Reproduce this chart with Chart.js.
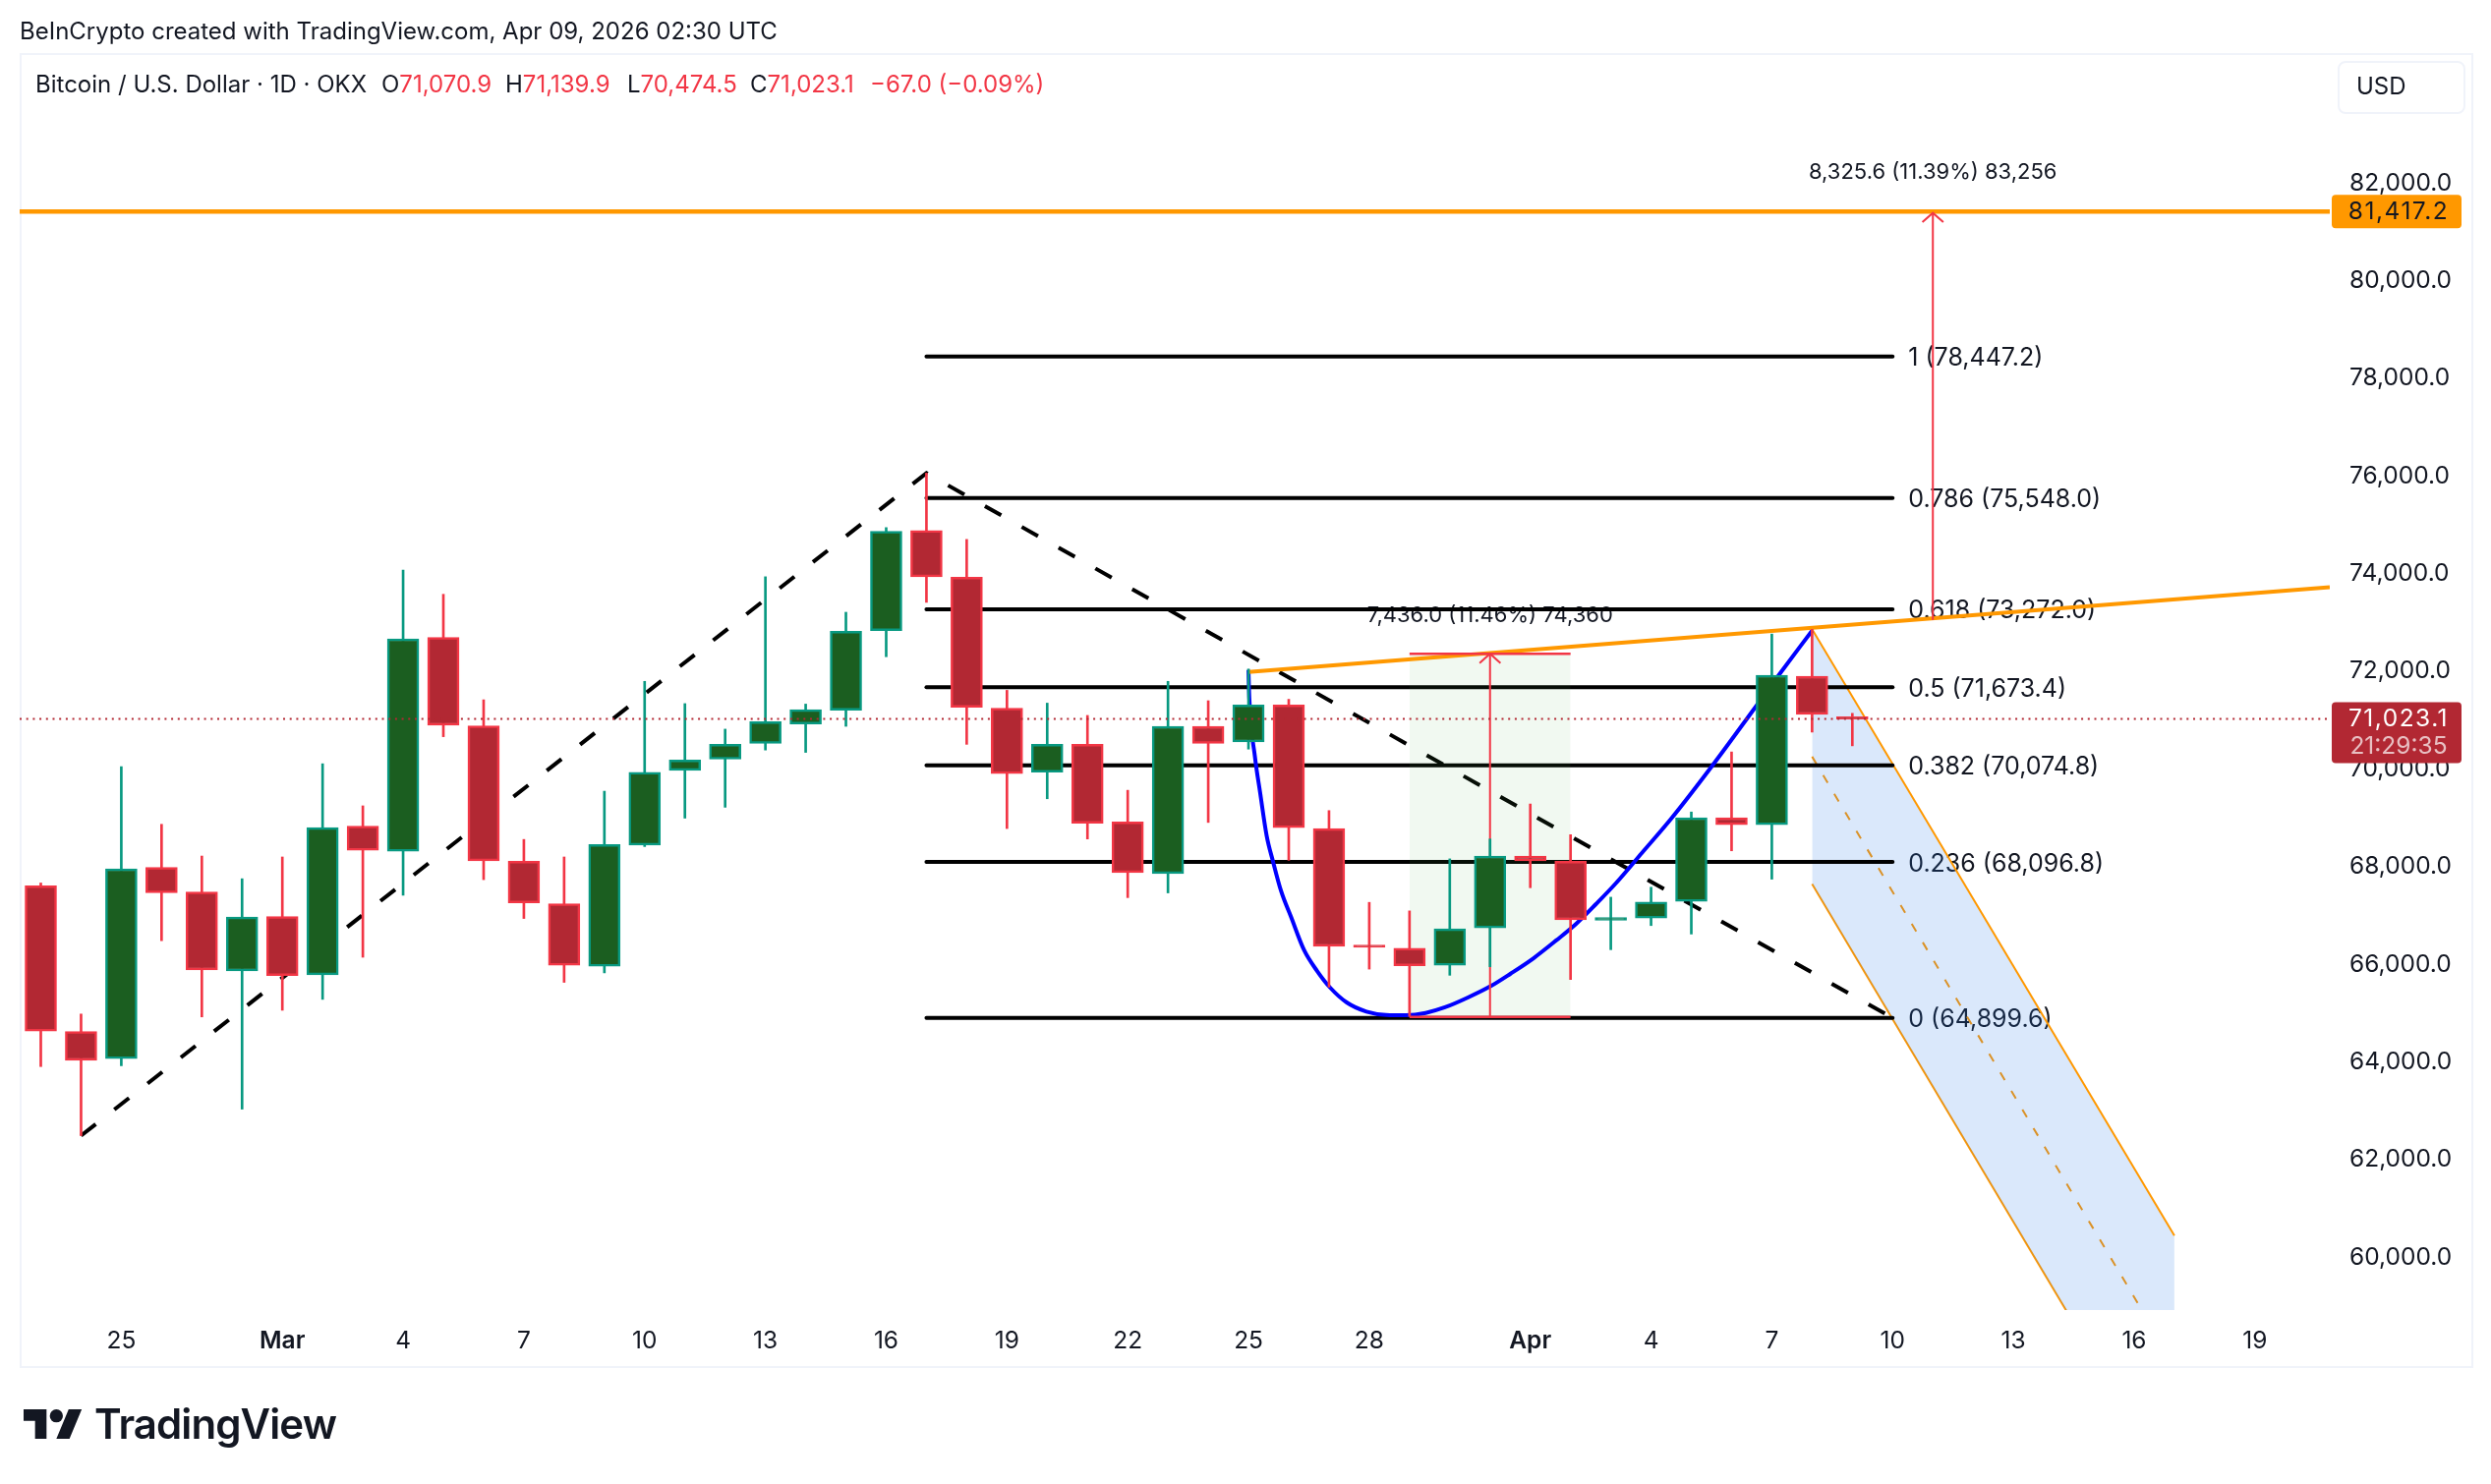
<!DOCTYPE html>
<html>
<head>
<meta charset="utf-8">
<title>BTC/USD</title>
<script src="https://cdn.jsdelivr.net/npm/chart.js@4/dist/chart.umd.min.js"></script>
<style>
    html, body { margin: 0; padding: 0; background: #fff; }
    body { width: 2534px; height: 1510px; position: relative; overflow: hidden; font-family: Inter, sans-serif; color: #131722; }
    canvas { position: absolute; left: 0; top: 0; }
    .frame { position: absolute; left: 20px; top: 54px; width: 2492px; height: 1334px; border: 2px solid #f0f3fa; }
    .txt { position: absolute; white-space: nowrap; font-size: 24px; line-height: 30px; }
    .red { color: #f23645; }
    .usd { position: absolute; left: 2378px; top: 62px; width: 126px; height: 50px; border: 2px solid #f0f3fa; border-radius: 8px; }
    .logo { position: absolute; left: 24px; top: 1434px; width: 60px; height: 30px; }
    .logoText { position: absolute; left: 96px; top: 1422px; font-size: 42px; line-height: 54px; font-weight: 600; letter-spacing: -0.9px; white-space: nowrap; }
</style>
</head>
<body>
<div class="frame"></div>
<div class="usd"></div>
<canvas id="btcChart" width="2534" height="1510"></canvas>

<div class="txt" style="left:20px;top:17px">BeInCrypto created with TradingView.com, Apr 09, 2026 02:30 UTC</div>
<div class="txt" style="left:36px;top:71px">Bitcoin / U.S. Dollar · 1D · OKX</div>
<div class="txt" style="left:388px;top:71px">O<span class="red">71,070.9</span></div>
<div class="txt" style="left:514px;top:71px">H<span class="red">71,139.9</span></div>
<div class="txt" style="left:638px;top:71px">L<span class="red">70,474.5</span></div>
<div class="txt" style="left:763px;top:71px">C<span class="red">71,023.1</span></div>
<div class="txt red" style="left:885px;top:71px">−67.0 (−0.09%)</div>
<div class="txt" style="left:2397px;top:73px">USD</div>

<svg class="logo" viewBox="0 0 36 18" preserveAspectRatio="none"><path d="M14 18H7V7H0V0h14v18zM28 18h-8l7.5-18h8L28 18z" fill="#131722"/><circle cx="20" cy="4" r="4" fill="#131722"/></svg>
<div class="logoText">TradingView</div>

<script>
// Kerzen ab 23. Feb, x ist der Index im Array
const dates = ['Feb 23','Feb 24','Feb 25','Feb 26','Feb 27','Feb 28','Mar 1','Mar 2','Mar 3','Mar 4','Mar 5','Mar 6','Mar 7','Mar 8','Mar 9','Mar 10','Mar 11','Mar 12','Mar 13','Mar 14','Mar 15','Mar 16','Mar 17','Mar 18','Mar 19','Mar 20','Mar 21','Mar 22','Mar 23','Mar 24','Mar 25','Mar 26','Mar 27','Mar 28','Mar 29','Mar 30','Mar 31','Apr 1','Apr 2','Apr 3','Apr 4','Apr 5','Apr 6','Apr 7','Apr 8','Apr 9'];
const opens = [67607,64622,64070,67985,67481,65863,66977,65785,68828,68314,72696,70884,68111,67239,65960,68440,69972,70204,70524,70923,71204,72832,74886,73927,71243,69933,70505,68915,67859,70874,70553,71310,68780,66396,66328,65979,66744,68217,68111,66900,66948,67287,69002,68857,71902,71070.9];
const closes = [64632,64031,67956,67462,65882,66967,65766,68799,68334,72667,70894,68121,67258,65979,68450,69933,70185,70505,70971,71213,72822,74867,73937,71262,69904,70505,68886,67878,70874,70524,71310,68799,66366,66347,65969,66725,68217,68121,66909,66958,67277,69002,68857,71921,71116,71023.1];
const highs = [67665,64981,70049,68867,68217,67752,68198,70107,69245,74072,73578,71417,68557,68198,69545,71795,71339,70816,73937,71329,73210,74944,76059,74702,71611,71349,71097,69564,71795,71398,72047,71427,69148,67268,67093,68159,68566,69283,68654,67374,67578,69119,70349,72764,72861,71139.9];
const lows = [63905,62490,63924,66483,64922,63033,65058,65281,66144,67413,70661,67733,66938,65630,65824,68411,68993,69216,70388,70340,70874,72299,73413,70505,68780,69390,68566,67365,67462,68905,70407,68130,65533,65901,64932,65775,65950,67568,65688,66299,66793,66619,68324,67743,70755,70474.5];

const yTicks = [60000,62000,64000,66000,68000,70000,72000,74000,76000,78000,80000,82000];
const xTickPos = [2,6,9,12,15,18,21,24,27,30,33,37,40,43,46,49,52,55];
const xTickLabels = ['25','Mar','4','7','10','13','16','19','22','25','28','Apr','4','7','10','13','16','19'];

const fibLevels = [78447.2,75548.0,73272.0,71673.4,70074.8,68096.8,64899.6];
const fibLabels = ['1 (78,447.2)','0.786 (75,548.0)','0.618 (73,272.0)','0.5 (71,673.4)','0.382 (70,074.8)','0.236 (68,096.8)','0 (64,899.6)'];
const fibStart = 22;
const fibEnd = 46;

const zigzagX = [1,22,46];
const zigzagY = [62490,76059,64900];

const curveX = [30,30.02,30.16,30.29,30.45,30.61,30.81,31.06,31.38,31.71,32.03,32.44,32.93,33.42,33.91,34.4,34.88,35.45,36.02,36.51,37.08,37.65,38.14,38.63,39.12,39.77,40.5,41.56,42.53,43.19,44];
const curveY = [72028,71458,70251,69512,68640,68103,67499,66963,66291,65856,65520,65218,65031,64963,64957,65003,65118,65319,65554,65808,66124,66493,66829,67231,67654,68278,68982,70110,71197,71942,72833];

const resistance = 81417.2;
const lastPrice = 71023.1;
const trendX = [30,56.86];
const trendY = [71989,73724];

const channelX = [44,53];
const channelTop = [72861,60445];
const channelMid = [70253,57800];
const channelBottom = [67646,55190];

const boxX = [34,38];
const boxTop = 72360;
const boxBottom = 64920;
const boxArrowX = 36;
const targetArrowX = 47;
const targetArrowY = [73055,81389];
const headDx = 0.26;
const headDy = 190;

const measureLabels = [
    { text: '8,325.6 (11.39%) 83,256', x: 47, y: 82213 },
    { text: '7,436.0 (11.46%) 74,360', x: 36, y: 73149 }
];

const X_MIN = -0.525, X_MAX = 56.86, Y_MIN = 58918, Y_MAX = 84663;

const GREEN_FILL = '#1b5e20', GREEN_LINE = '#089981';
const RED_FILL = '#b22833', RED_LINE = '#f23645';
const ORANGE = '#ff9800';

function xyLine(xs, ys, extra) {
    return Object.assign({
        type: 'line',
        data: xs.map((x, i) => ({ x: x, y: ys[i] })),
        borderWidth: 2,
        pointRadius: 0,
        fill: false,
        order: 5
    }, extra);
}

const isUp = i => closes[i] >= opens[i];

const datasets = [];

// letzte Kurs-Linie liegt ueber den Kerzen
datasets.push(xyLine([X_MIN, X_MAX], [lastPrice, lastPrice], { borderColor: RED_FILL, borderWidth: 2, borderDash: [2, 4.7], order: 0 }));

// Kerzen: Docht und Koerper als schwebende Balken
datasets.push({
    type: 'bar', label: 'bodies', order: 1, grouped: false, barThickness: 32, borderWidth: 2.5, borderSkipped: false,
    data: dates.map((d, i) => ({ x: i, y: [opens[i], closes[i]] })),
    backgroundColor: ctx => isUp(ctx.dataIndex) ? GREEN_FILL : RED_FILL,
    borderColor: ctx => isUp(ctx.dataIndex) ? GREEN_LINE : RED_LINE
});
datasets.push({
    type: 'bar', label: 'wicks', order: 2, grouped: false, barThickness: 2, borderWidth: 0,
    data: dates.map((d, i) => ({ x: i, y: [lows[i], highs[i]] })),
    backgroundColor: ctx => isUp(ctx.dataIndex) ? GREEN_LINE : RED_LINE
});

// Pfeile und Box
datasets.push(xyLine(boxX, [boxTop, boxTop], { borderColor: RED_LINE, borderWidth: 2.5, order: 3 }));
datasets.push(xyLine(boxX, [boxBottom, boxBottom], { borderColor: RED_LINE, borderWidth: 2.5, order: 3 }));
datasets.push(xyLine([boxArrowX, boxArrowX], [boxBottom, boxTop], { borderColor: RED_LINE, order: 3 }));
datasets.push(xyLine([boxArrowX - headDx, boxArrowX, boxArrowX + headDx], [boxTop - headDy, boxTop, boxTop - headDy], { borderColor: RED_LINE, order: 3 }));
datasets.push(xyLine([targetArrowX, targetArrowX], targetArrowY, { borderColor: RED_LINE, order: 3 }));
datasets.push(xyLine([targetArrowX - headDx, targetArrowX, targetArrowX + headDx], [targetArrowY[1] - headDy, targetArrowY[1], targetArrowY[1] - headDy], { borderColor: RED_LINE, order: 3 }));

// Trendlinien
datasets.push(xyLine([X_MIN, X_MAX], [resistance, resistance], { borderColor: ORANGE, borderWidth: 4.5, order: 4 }));
datasets.push(xyLine(trendX, trendY, { borderColor: ORANGE, borderWidth: 4, order: 4 }));
datasets.push(xyLine(curveX, curveY, { borderColor: '#0000ff', borderWidth: 4, cubicInterpolationMode: 'monotone', order: 4 }));

// gruene Box liegt ueber den schwarzen Linien
datasets.push(xyLine(boxX, [boxTop, boxTop], { borderWidth: 0, backgroundColor: 'rgba(76,175,80,0.08)', fill: { value: boxBottom }, order: 5 }));

// Fibonacci und gestrichelter Zickzack
fibLevels.forEach(level => {
    datasets.push(xyLine([fibStart, fibEnd], [level, level], { borderColor: '#000', borderWidth: 4, borderCapStyle: 'round', order: 6 }));
});
datasets.push(xyLine(zigzagX, zigzagY, { borderColor: '#000', borderWidth: 4, borderDash: [19, 24], order: 6 }));

// Kanal: obere Kante fuellt bis zur naechsten Linie
datasets.push(xyLine(channelX, channelTop, { borderColor: ORANGE, borderWidth: 2, backgroundColor: 'rgba(33,120,233,0.17)', fill: '+1', order: 8 }));
datasets.push(xyLine(channelX, channelBottom, { borderColor: ORANGE, borderWidth: 2, order: 8 }));
datasets.push(xyLine(channelX, channelMid, { borderColor: ORANGE, borderWidth: 2, borderDash: [9, 13], order: 8 }));

const drawingLabels = {
    id: 'drawingLabels',
    beforeDatasetsDraw(chart) {
        const { ctx, scales: { x, y } } = chart;
        ctx.save();
        ctx.fillStyle = '#131722';
        ctx.textBaseline = 'middle';
        ctx.textAlign = 'left';
        ctx.font = '25px Inter';
        fibLevels.forEach((level, i) => {
            ctx.fillText(fibLabels[i], x.getPixelForValue(fibEnd) + 16, y.getPixelForValue(level) + 2);
        });
        ctx.textAlign = 'center';
        ctx.font = '22px Inter';
        measureLabels.forEach(l => {
            ctx.fillText(l.text, x.getPixelForValue(l.x), y.getPixelForValue(l.y));
        });
        ctx.restore();
    }
};

const priceTags = {
    id: 'priceTags',
    afterDraw(chart) {
        const { ctx, scales: { y } } = chart;
        const cx = 2440;
        const top1 = y.getPixelForValue(resistance);
        const top2 = y.getPixelForValue(lastPrice);
        ctx.save();
        ctx.fillStyle = ORANGE;
        ctx.beginPath();
        ctx.roundRect(2372, top1 - 17, 132, 34, 4);
        ctx.fill();
        ctx.fillStyle = RED_FILL;
        ctx.beginPath();
        ctx.roundRect(2372, top2 - 17, 132, 62, 4);
        ctx.fill();
        ctx.textAlign = 'center';
        ctx.textBaseline = 'middle';
        ctx.font = '24.5px Inter';
        ctx.letterSpacing = '1.5px';
        ctx.fillStyle = '#131722';
        ctx.fillText('81,417.2', cx, top1);
        ctx.fillStyle = '#fff';
        ctx.fillText('71,023.1', cx, top2);
        ctx.letterSpacing = '0px';
        ctx.fillStyle = 'rgba(255,255,255,0.7)';
        ctx.fillText('21:29:35', cx, top2 + 28);
        ctx.restore();
    }
};

Chart.defaults.font.family = 'Inter';

new Chart(document.getElementById('btcChart'), {
    type: 'line',
    data: { datasets: datasets },
    plugins: [drawingLabels, priceTags],
    options: {
        responsive: false,
        animation: false,
        devicePixelRatio: 1,
        layout: { padding: { left: 20, top: 54, right: 20, bottom: 120 } },
        plugins: { legend: { display: false }, tooltip: { enabled: false } },
        scales: {
            x: {
                type: 'linear',
                min: X_MIN,
                max: X_MAX,
                offset: false,
                grid: { display: false },
                border: { display: false },
                afterFit(scale) { scale.height = 57; },
                afterBuildTicks(scale) { scale.ticks = xTickPos.map(v => ({ value: v })); },
                ticks: {
                    autoSkip: false,
                    maxRotation: 0,
                    padding: 9,
                    color: '#131722',
                    font: ctx => ({ size: 24.5, weight: isNaN(parseInt(xTickLabels[ctx.index])) ? '600' : '400' }),
                    callback: (value, index) => xTickLabels[index]
                }
            },
            y: {
                position: 'right',
                min: Y_MIN,
                max: Y_MAX,
                grid: { display: false },
                border: { display: false },
                afterFit(scale) { scale.width = 144; },
                afterBuildTicks(scale) { scale.ticks = yTicks.map(v => ({ value: v })); },
                ticks: {
                    autoSkip: false,
                    padding: 12,
                    color: '#131722',
                    font: { size: 24.5 },
                    callback: value => value.toLocaleString('en-US', { minimumFractionDigits: 1 })
                }
            }
        }
    }
});
</script>
</body>
</html>
